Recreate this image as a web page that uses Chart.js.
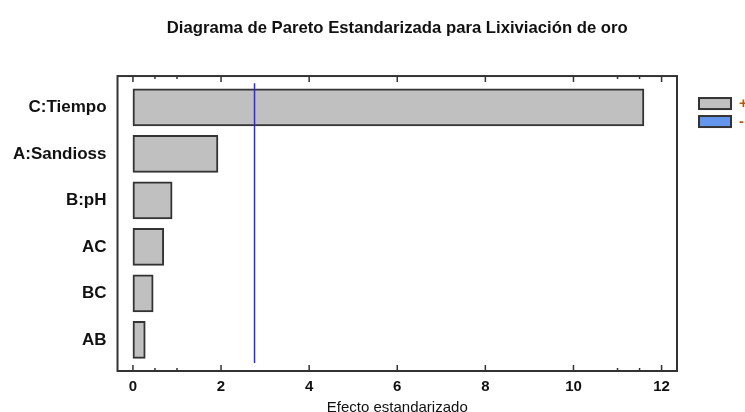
<!DOCTYPE html>
<html>
<head>
<meta charset="utf-8">
<script src="https://cdn.jsdelivr.net/npm/chart.js@4/dist/chart.umd.min.js"></script>
<style>
  html, body { margin: 0; padding: 0; background: #fff; }
  #wrap { width: 745px; height: 412px; overflow: hidden; position: relative; }
  canvas { display: block; }
</style>
</head>
<body>
<div id="wrap"><canvas id="pareto" width="745" height="417"></canvas></div>
<script>
const factors = ['C:Tiempo', 'A:Sandioss', 'B:pH', 'AC', 'BC', 'AB']
const effects = [11.6, 1.93, 0.89, 0.7, 0.46, 0.28]
const criticalValue = 2.76
const xTickValues = [0, 2, 4, 6, 8, 10, 12]
const xMinorTicks = [0.5, 1, 11, 11.5]
const legendLabels = ['+', '-']
const legendColors = ['#c0c0c0', '#6495ed']

const FONT = '"Liberation Sans", Arial, sans-serif'

// frame around the plot, inward tick marks and the small legend on the right
const framePlugin = {
    id: 'frame',
    afterDatasetsDraw(chart) {
        const ctx = chart.ctx
        const a = chart.chartArea
        const xs = chart.scales.x
        ctx.save()
        ctx.strokeStyle = '#333'
        ctx.lineWidth = 1.5
        xTickValues.forEach(v => {
            const px = xs.getPixelForValue(v)
            ctx.beginPath()
            ctx.moveTo(px, a.bottom); ctx.lineTo(px, a.bottom - 6)
            ctx.moveTo(px, a.top); ctx.lineTo(px, a.top + 6)
            ctx.stroke()
        })
        xMinorTicks.forEach(v => {
            const px = xs.getPixelForValue(v)
            ctx.beginPath()
            ctx.moveTo(px, a.bottom); ctx.lineTo(px, a.bottom - 3)
            ctx.moveTo(px, a.top); ctx.lineTo(px, a.top + 3)
            ctx.stroke()
        })
        ctx.lineWidth = 2
        ctx.strokeRect(a.left, a.top, a.right - a.left, a.bottom - a.top)

        // legend
        ctx.font = 'bold 15px ' + FONT
        ctx.textBaseline = 'middle'
        legendLabels.forEach((t, i) => {
            const x = a.right + 22
            const y = a.top + 22 + i * 18
            ctx.fillStyle = legendColors[i]
            ctx.fillRect(x, y, 32, 11)
            ctx.strokeStyle = '#333'
            ctx.lineWidth = 2
            ctx.strokeRect(x, y, 32, 11)
            ctx.fillStyle = '#b35a00'
            ctx.fillText(t, x + 40, y + 6)
        })
        ctx.restore()
    }
}

const chart = new Chart(document.getElementById('pareto'), {
    type: 'bar',
    data: {
        datasets: [{
            label: legendLabels[0],
            data: effects.map((e, i) => ({ x: e, y: i })),
            backgroundColor: '#c0c0c0',
            borderColor: '#333',
            borderWidth: 2,
            borderSkipped: false,
            barThickness: 37,
            order: 2
        }, {
            type: 'line',
            label: legendLabels[1],
            data: [{ x: criticalValue, y: -0.52 }, { x: criticalValue, y: 5.5 }],
            borderColor: '#2b2bef',
            borderWidth: 1.5,
            pointRadius: 0,
            order: 1
        }]
    },
    plugins: [framePlugin],
    options: {
        indexAxis: 'y',
        responsive: false,
        animation: false,
        layout: { padding: { left: 2, right: 68, top: 0, bottom: 0 } },
        scales: {
            x: {
                type: 'linear',
                min: -0.35,
                max: 12.35,
                afterBuildTicks: s => { s.ticks = xTickValues.map(v => ({ value: v })) },
                grid: { display: false, drawTicks: false },
                border: { display: false },
                ticks: {
                    color: '#111',
                    padding: 7,
                    font: { family: FONT, size: 15, weight: 'bold' }
                },
                title: {
                    display: true,
                    text: 'Efecto estandarizado',
                    color: '#111',
                    padding: { top: -4, bottom: 0 },
                    font: { family: FONT, size: 15 }
                }
            },
            y: {
                type: 'linear',
                reverse: true,
                offset: false,
                min: -0.675,
                max: 5.67,
                afterBuildTicks: s => { s.ticks = factors.map((f, i) => ({ value: i })) },
                grid: { display: false, drawTicks: false },
                border: { display: false },
                ticks: {
                    color: '#111',
                    padding: 11,
                    callback: v => factors[v],
                    font: { family: FONT, size: 17, weight: 'bold' }
                }
            }
        },
        plugins: {
            title: {
                display: true,
                fullSize: false,
                text: 'Diagrama de Pareto Estandarizada para Lixiviación de oro',
                color: '#111',
                padding: { top: 18, bottom: 38 },
                font: { family: FONT, size: 16.7, weight: 'bold' }
            },
            legend: { display: false },
            tooltip: { enabled: false }
        }
    }
})
</script>
</body>
</html>
